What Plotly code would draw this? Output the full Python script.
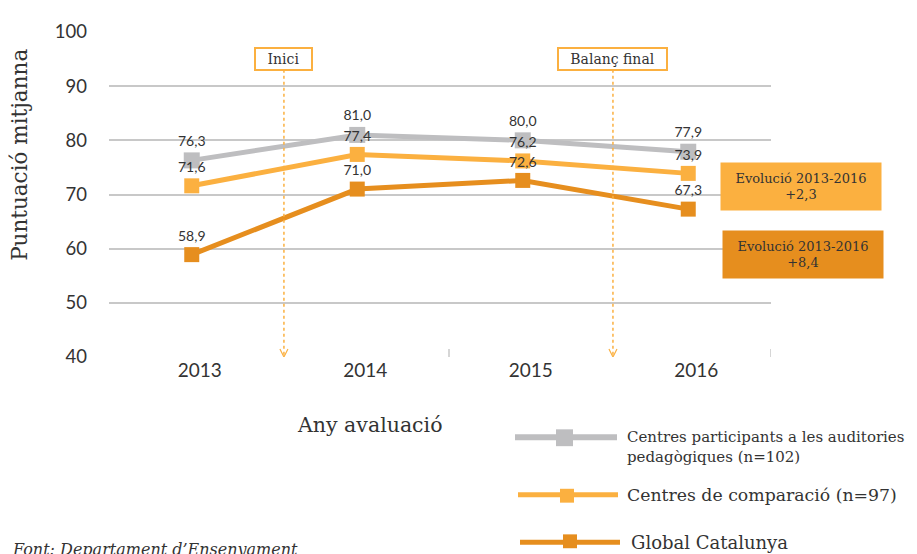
import plotly.graph_objects as go

years = ["2013", "2014", "2015", "2016"]
participants = [76.3, 81.0, 80.0, 77.9]
comparacio = [71.6, 77.4, 76.2, 73.9]
global_cat = [58.9, 71.0, 72.6, 67.3]

series_names = [
    "Centres participants a les auditories<br>pedagògiques (n=102)",
    "Centres de comparació (n=97)",
    "Global Catalunya",
]
colors = ["#BEBEC0", "#FBB040", "#E68E1E"]
y_ticks = [40, 50, 60, 70, 80, 90, 100]
evol_labels = ["Evolució 2013-2016<br>+2,3", "Evolució 2013-2016<br>+8,4"]
milestones = ["Inici", "Balanç final"]

SERIF = "DejaVu Serif"
SANS = "Lato"
TXT = "#333333"

# page body has an 8px margin; figure sized to fill the rest of the window
OFF = 8
W, H = 917 - OFF, 554 - OFF
PL, PR, PT, PB = 109, 771, 29, 357          # plot area in screen pixels
L, T = PL - OFF, PT - OFF
R, B = W - (PR - OFF), H - (PB - OFF)
PW, PH = PR - PL, PB - PT

def px(x):
    return (x - PL) / PW

def py(y):
    return (PB - y) / PH

fig = go.Figure()
xs = list(range(len(years)))
for vals, col, msize in zip([participants, comparacio, global_cat], colors, [16, 15, 15]):
    fig.add_trace(go.Scatter(
        x=xs, y=vals, mode="lines+markers+text",
        line=dict(color=col, width=5),
        marker=dict(symbol="square", size=msize, color=col),
        text=[f"{v:.1f}".replace(".", ",") for v in vals],
        textposition="top center",
        textfont=dict(family=SANS, size=14, color=TXT),
        showlegend=False, cliponaxis=False,
    ))

shapes = []
annotations = []
unit_x = PW / 4.0
unit_y = PH / 60.0

# milestone markers (dotted arrows + boxed labels)
ms_x = [0.557, 2.545]
ms_w = [61, 113]
for name, xm, wbox in zip(milestones, ms_x, ms_w):
    shapes.append(dict(type="line", xref="x", yref="paper", x0=xm, x1=xm,
                       y0=py(67), y1=0, line=dict(color="#FBB040", width=1.5, dash="dot")))
    dx = 4 / unit_x
    dy = 8 / unit_y
    shapes.append(dict(type="path", xref="x", yref="y",
                       path=f"M {xm-dx},{40+dy} L {xm},40 L {xm+dx},{40+dy}",
                       line=dict(color="#FBB040", width=1.2)))
    annotations.append(dict(x=xm, y=py(56), xref="x", yref="paper", text=name,
                            showarrow=False, font=dict(family=SERIF, size=14, color=TXT),
                            bgcolor="white", bordercolor="#FBB040", borderwidth=2,
                            width=wbox - 8, height=18, borderpad=1,
                            xanchor="center", yanchor="middle"))

# evolution boxes
for lab, col, cx, cy in zip(evol_labels, colors[1:], [801, 803], [184.5, 253.5]):
    annotations.append(dict(x=px(cx), y=py(cy), xref="paper", yref="paper", text=lab,
                            showarrow=False, font=dict(family=SERIF, size=13, color=TXT),
                            bgcolor=col, width=160, height=47, borderpad=0,
                            xanchor="center", yanchor="middle"))

# legend drawn manually
leg = [
    (515, 617, 438, 6, 556, 573, 430, 447, 625, 448, 15.0),
    (518, 618, 496, 5, 560, 574, 490, 504, 625, 496, 17.3),
    (520, 620, 544, 5, 563, 577, 536, 550, 629, 544, 18),
]
for (x0, x1, yl, lw, mx0, mx1, my0, my1, tx, ty, fs), col, name in zip(leg, colors, series_names):
    shapes.append(dict(type="line", xref="paper", yref="paper", x0=px(x0), x1=px(x1),
                       y0=py(yl), y1=py(yl), line=dict(color=col, width=lw)))
    shapes.append(dict(type="rect", xref="paper", yref="paper", x0=px(mx0), x1=px(mx1),
                       y0=py(my1), y1=py(my0), fillcolor=col, line=dict(width=0)))
    annotations.append(dict(x=px(tx), y=py(ty), xref="paper", yref="paper", text=name,
                            showarrow=False, xanchor="left", yanchor="middle", align="left",
                            font=dict(family=SERIF, size=fs, color=TXT)))

# axis titles
annotations.append(dict(x=px(20), y=py(153), xref="paper", yref="paper",
                        text="Puntuació mitjanna", textangle=-90, showarrow=False,
                        xanchor="center", yanchor="middle",
                        font=dict(family=SERIF, size=21.5, color=TXT)))
annotations.append(dict(x=px(370), y=py(426), xref="paper", yref="paper",
                        text="Any avaluació", showarrow=False,
                        xanchor="center", yanchor="middle",
                        font=dict(family=SERIF, size=20.5, color=TXT)))
annotations.append(dict(x=px(10), y=py(540), xref="paper", yref="paper",
                        text="<i>Font: Departament d’Ensenyament</i>", showarrow=False,
                        xanchor="left", yanchor="top",
                        font=dict(family=SERIF, size=16, color=TXT)))

fig.update_layout(
    width=W, height=H,
    margin=dict(l=L, r=R, t=T, b=B, pad=0),
    paper_bgcolor="white", plot_bgcolor="white",
    shapes=shapes, annotations=annotations,
    xaxis=dict(range=[-0.5, 3.5], tickvals=xs, ticktext=years, showgrid=False,
               zeroline=False, showline=False, ticks="", ticklabelshift=8,
               tickfont=dict(family=SANS, size=19, color=TXT), fixedrange=True),
    yaxis=dict(range=[40, 100], tickvals=y_ticks, showgrid=True, gridcolor="#C8C8C8",
               gridwidth=1.5, zeroline=False, showline=False, ticks="",
               ticklabelstandoff=21,
               tickfont=dict(family=SANS, size=18.5, color=TXT), fixedrange=True),
)
# boundary tick marks between 2014/2015 and at the right end
for xb in [1.5 + 9 / unit_x, 3.5]:
    fig.add_shape(type="line", xref="x", yref="y", x0=xb, x1=xb,
                  y0=40, y1=40 + 8 / unit_y, line=dict(color="#C8C8C8", width=1.5))

fig.write_html("out.html")
